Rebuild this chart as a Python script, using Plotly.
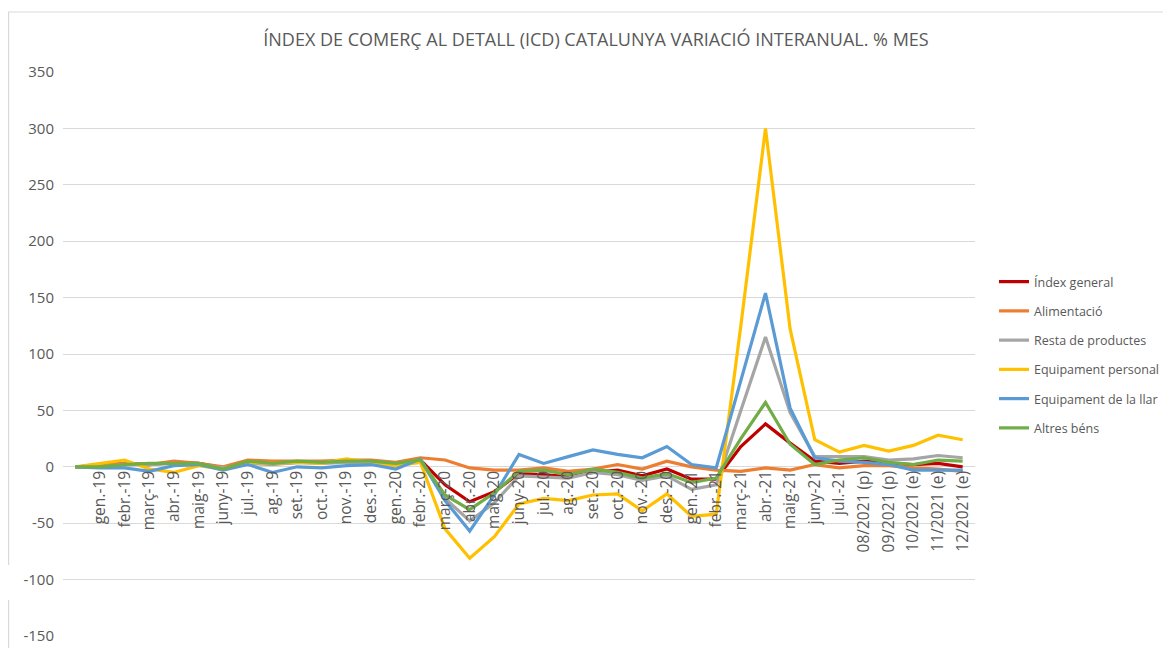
import plotly.graph_objects as go

categories = [" ", "gen.-19", "febr.-19", "març-19", "abr.-19", "maig-19", "juny-19", "jul.-19",
              "ag.-19", "set.-19", "oct.-19", "nov.-19", "des.-19", "gen.-20", "febr.-20",
              "març-20", "abr.-20", "maig-20", "juny-20", "jul.-20", "ag.-20", "set.-20",
              "oct.-20", "nov.-20", "des.-20", "gen.-21", "febr.-21", "març-21", "abr.-21",
              "maig-21", "juny-21", "jul.-21", "08/2021 (p)", "09/2021 (p)", "10/2021 (e)",
              "11/2021 (e)", "12/2021 (e)"]

index_general = [0, 1, 3, 2, 4, 3, -1, 4, 3, 4, 4, 4, 4, 2, 6,
                 -16, -31, -22, -6, -7, -9, -5, -3, -8, -2, -11, -11,
                 18, 38, 21, 5, 3, 5, 3, 2, 3, 0]
alimentacio = [0, 1, 3, 2, 5, 3, 0, 6, 5, 5, 5, 6, 6, 4, 8,
               6, -1, -3, -3, -1, -4, -2, 2, -2, 5, 0, -3,
               -4, -1, -3, 2, -1, 1, 1, -1, -2, -4]
resta_productes = [0, 0, 2, 2, 3, 2, -1, 3, 2, 4, 3, 4, 4, 1, 6,
                   -28, -48, -32, -8, -9, -10, -5, -7, -12, -8, -20, -16,
                   50, 115, 48, 9, 9, 9, 6, 7, 10, 8]
equip_personal = [0, 3, 6, -2, -5, 1, -2, 4, 3, 4, 3, 7, 4, 1, 4,
                  -55, -81, -62, -33, -28, -30, -25, -24, -39, -24, -44, -42,
                  125, 300, 122, 24, 13, 19, 14, 19, 28, 24]
equip_llar = [0, -1, -1, -4, 1, 2, -3, 2, -5, 0, -1, 1, 2, -2, 7,
              -30, -57, -25, 11, 3, 9, 15, 11, 8, 18, 2, -1,
              76, 154, 52, 8, 5, 4, 2, -3, -3, -3]
altres_bens = [0, 0, 2, 3, 3, 3, -2, 5, 3, 5, 4, 5, 5, 3, 6,
               -25, -38, -23, -4, -3, -7, -2, -5, -10, -6, -14, -10,
               25, 57, 20, 2, 6, 8, 4, 2, 6, 5]

series_names = ["Índex general", "Alimentació", "Resta de productes",
                "Equipament personal", "Equipament de la llar", "Altres béns"]
series_values = [index_general, alimentacio, resta_productes,
                 equip_personal, equip_llar, altres_bens]
series_colors = ["#C00000", "#ED7D31", "#A5A5A5", "#FFC000", "#5B9BD5", "#70AD47"]

y_ticks = [-150, -100, -50, 0, 50, 100, 150, 200, 250, 300, 350]
y_tick_labels = ["-150", "-100", "-50", "0", "50", "100", "150", "200", "250", "300", "350"]

FONT = "Open Sans"
TXT = "#595959"

fig = go.Figure()
for i, (name, vals, col) in enumerate(zip(series_names, series_values, series_colors)):
    fig.add_trace(go.Scatter(
        x=categories, y=vals, mode="lines", name=name,
        line=dict(color=col, width=3.2), legendgroup=f"g{i}",
    ))

# figure pixel coords (page has an 8px body margin)
W, H = 1163, 640
L, R, T, B = 55, 196, 64, 12
pw, ph = W - L - R, H - T - B

def px_x(p):
    return (p - L) / pw

def px_y(p):
    return (H - B - p) / ph

fig.update_layout(
    width=W, height=H,
    margin=dict(l=L, r=R, t=T, b=B, autoexpand=False),
    paper_bgcolor="white", plot_bgcolor="white",
    font=dict(family=FONT, color=TXT),
    title=dict(text="ÍNDEX DE COMERÇ AL DETALL (ICD) CATALUNYA VARIACIÓ INTERANUAL. % MES",
               x=588 / W, xanchor="center", xref="container",
               y=1 - 32 / H, yanchor="middle", yref="container",
               font=dict(family=FONT, size=18, color=TXT)),
    xaxis=dict(
        type="category", range=[-0.5, len(categories) - 0.5],
        anchor="free", position=150 / 500,
        showgrid=False, zeroline=False, showline=False,
        tickangle=-90, tickfont=dict(family=FONT, size=15.5, color=TXT),
        ticks="", automargin=False,
    ),
    yaxis=dict(
        range=[-150, 350], tickvals=y_ticks, ticktext=y_tick_labels,
        showgrid=True, gridcolor="#D9D9D9", gridwidth=1.3,
        zeroline=False, showline=False, ticks="",
        tickfont=dict(family=FONT, size=15, color=TXT),
        ticklabelstandoff=8, automargin=False,
    ),
    legend=dict(
        x=px_x(986), xanchor="left", y=px_y(259), yanchor="top",
        font=dict(family=FONT, size=12.5, color=TXT),
        tracegroupgap=10, itemwidth=30, bgcolor="rgba(0,0,0,0)",
    ),
    showlegend=True,
)

border = "#D9D9D9"
fig.add_shape(type="line", xref="paper", yref="paper",
              x0=px_x(0), x1=px_x(W + 20), y0=px_y(4), y1=px_y(4),
              line=dict(color=border, width=1.2))
fig.add_shape(type="line", xref="paper", yref="paper",
              x0=px_x(0.6), x1=px_x(0.6), y0=px_y(4), y1=px_y(557),
              line=dict(color=border, width=1.2))
fig.add_shape(type="line", xref="paper", yref="paper",
              x0=px_x(0.6), x1=px_x(0.6), y0=px_y(592), y1=px_y(H + 20),
              line=dict(color=border, width=1.2))

fig.write_html("out.html")
